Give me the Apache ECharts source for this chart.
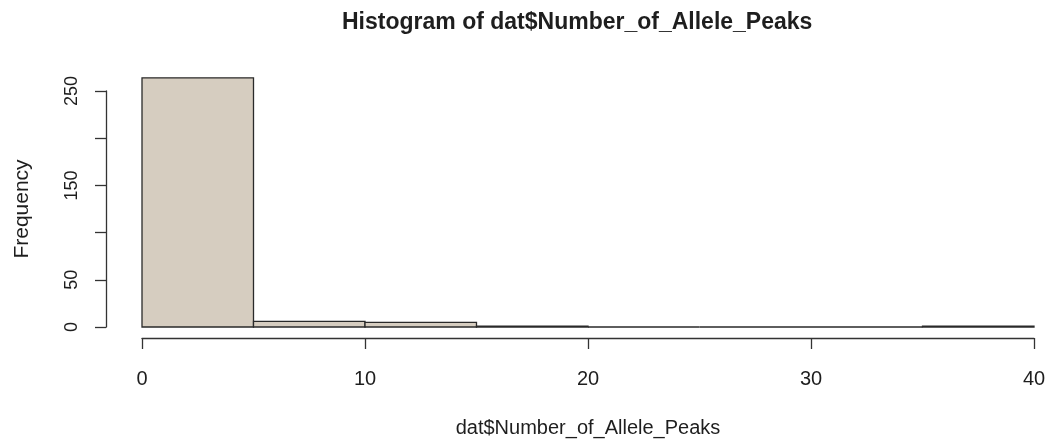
<!DOCTYPE html>
<html>
<head>
<meta charset="utf-8">
<script src="https://cdn.jsdelivr.net/npm/echarts@6/dist/echarts.min.js"></script>
<style>
html,body{margin:0;padding:0;background:#fff;}
#chart{width:1050px;height:445px;}
</style>
</head>
<body>
<div id="chart"></div>
<script>
// Histogram bins and counts
const binStarts = [0, 5, 10, 15, 20, 25, 30, 35];
const binEnds   = [5, 10, 15, 20, 25, 30, 35, 40];
const counts    = [264, 6, 5, 1, 0, 0, 0, 1];
const xTicks = [0, 10, 20, 30, 40];
const yTickLabels = [0, 50, 150, 250];

const titleText = 'Histogram of dat$Number_of_Allele_Peaks';
const xName = 'dat$Number_of_Allele_Peaks';
const yName = 'Frequency';

const data = binStarts.map((s, i) => [s, binEnds[i], counts[i]]);

const font = '"Liberation Sans", Arial, Helvetica, sans-serif';
const ink = '#1e1e1e';

const chart = echarts.init(document.getElementById('chart'), null, {renderer: 'canvas'});
chart.setOption({
  backgroundColor: '#fff',
  animation: false,
  title: {
    text: titleText,
    left: 337, top: 6,
    textStyle: {fontFamily: font, fontSize: 23, fontWeight: 'bold', color: ink}
  },
  grid: [
    {left: 142, right: 16, top: 62.7, bottom: 118},
    {left: 106, width: 1, top: 91, bottom: 118}
  ],
  xAxis: [
    {
      gridIndex: 0, type: 'value', min: 0, max: 40, interval: 10,
      offset: 11,
      axisLine: {show: true, onZero: false, lineStyle: {color: '#333', width: 1.3}},
      axisTick: {show: true, length: 11, lineStyle: {color: '#333', width: 1.3}},
      axisLabel: {
        show: true, margin: 31, fontFamily: font, fontSize: 20, color: ink,
        formatter: v => xTicks.includes(v) ? String(v) : ''
      },
      splitLine: {show: false},
      name: xName, nameLocation: 'middle', nameGap: 80,
      nameTextStyle: {fontFamily: font, fontSize: 20, color: ink}
    },
    {gridIndex: 1, type: 'value', min: 0, max: 1, show: false}
  ],
  yAxis: [
    {gridIndex: 0, type: 'value', min: 0, max: 280, show: false},
    {
      gridIndex: 1, type: 'value', min: 0, max: 250, interval: 50,
      axisLine: {show: true, lineStyle: {color: '#333', width: 1.3}},
      axisTick: {show: true, length: 11, lineStyle: {color: '#333', width: 1.3}},
      axisLabel: {
        show: true, rotate: 90, margin: 25, fontFamily: font, fontSize: 18, color: ink,
        formatter: v => yTickLabels.includes(v) ? String(v) : ''
      },
      splitLine: {show: false},
      name: yName, nameLocation: 'middle', nameGap: 73,
      nameTextStyle: {fontFamily: font, fontSize: 21, color: ink}
    }
  ],
  series: [{
    type: 'custom',
    xAxisIndex: 0, yAxisIndex: 0,
    data: data,
    renderItem: function (params, api) {
      const p0 = api.coord([api.value(0), 0]);
      const p1 = api.coord([api.value(1), api.value(2)]);
      return {
        type: 'rect',
        shape: {x: p0[0], y: p1[1], width: p1[0] - p0[0], height: p0[1] - p1[1]},
        style: {fill: '#d6cdc0', stroke: '#2a2a2a', lineWidth: 1.3}
      };
    }
  }]
});
</script>
</body>
</html>
